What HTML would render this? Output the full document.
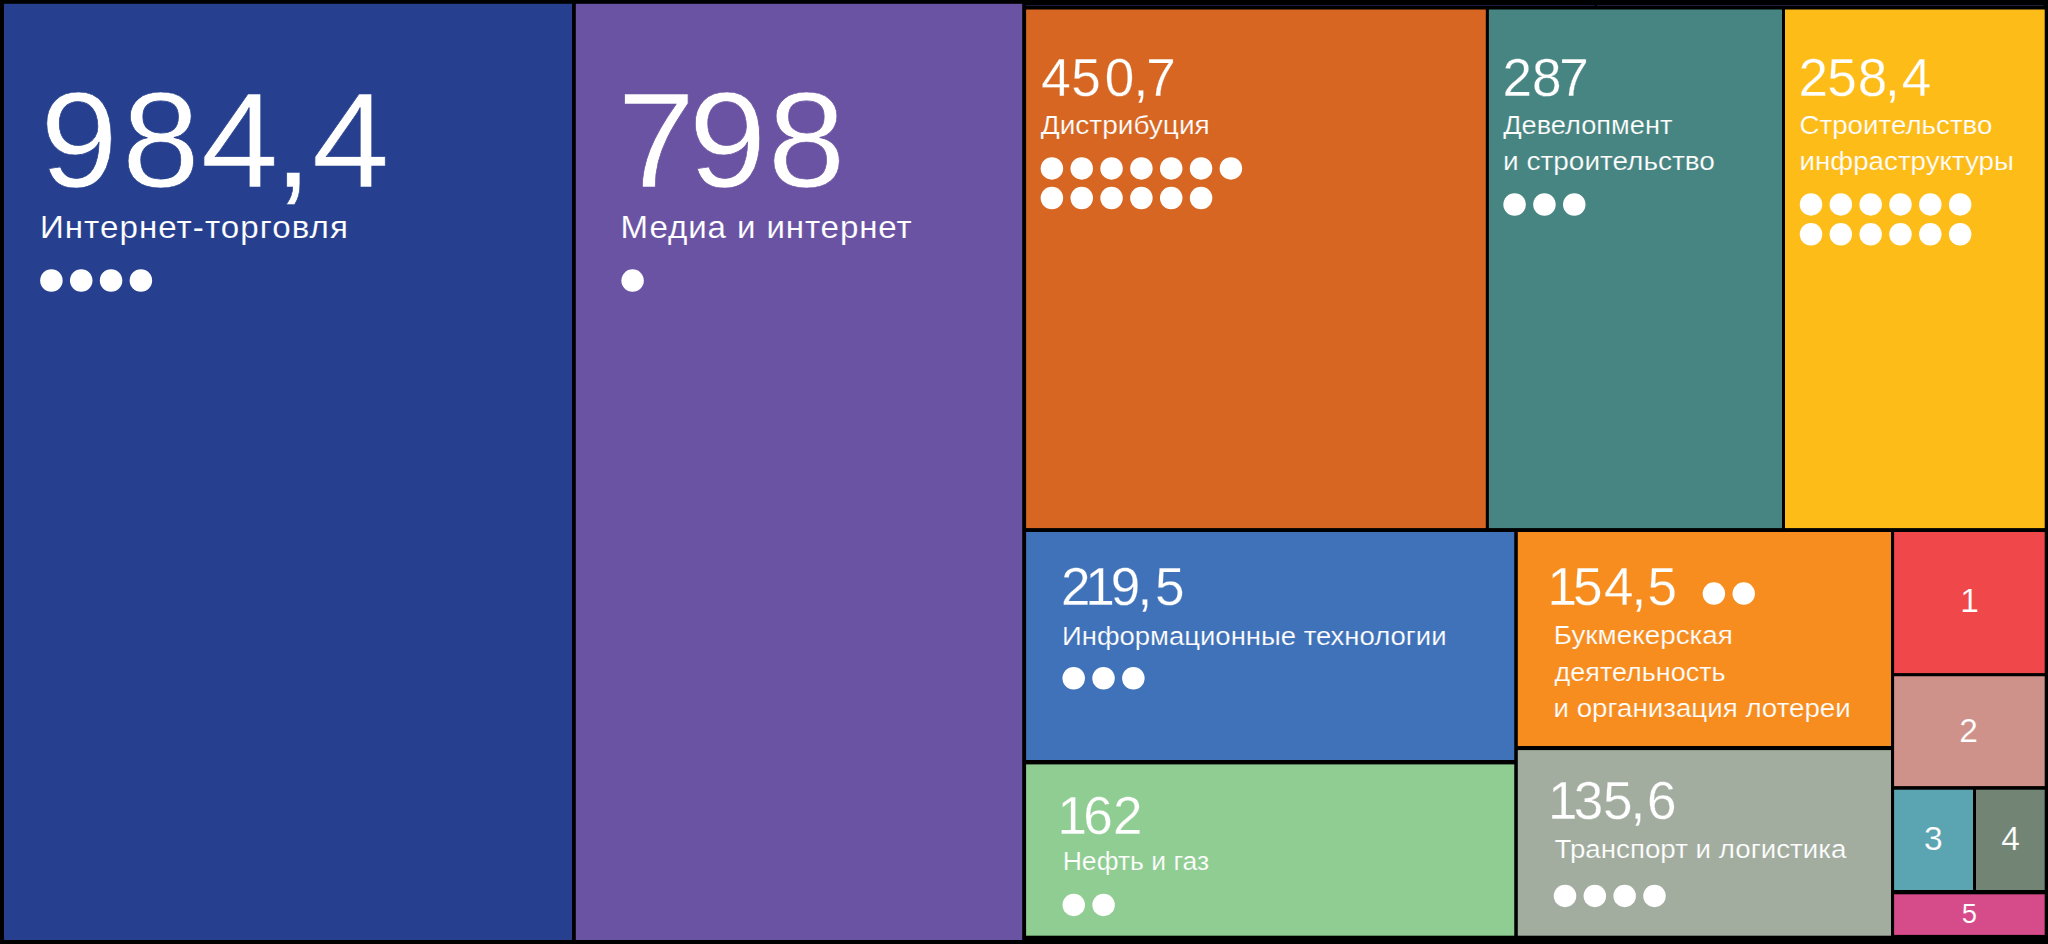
<!DOCTYPE html>
<html lang="ru"><head><meta charset="utf-8"><title>Treemap</title>
<style>
html,body{margin:0;padding:0;background:#000;}
body{width:2048px;height:944px;overflow:hidden;}
svg{display:block;}
text{font-family:"Liberation Sans",sans-serif;fill:#fff;}
</style></head><body>
<svg width="2048" height="944" viewBox="0 0 2048 944">
<rect width="2048" height="944" fill="#000"/>
<rect x="1026" y="5" width="568.5" height="1" fill="#181b3c"/>
<rect x="1597" y="5" width="446.5" height="1" fill="#241d3a"/>
<rect x="4" y="3.8" width="568" height="936.2" fill="#26408F"/>
<rect x="575.8" y="3.8" width="446.4" height="936.2" fill="#6B53A3"/>
<rect x="1026.1" y="9.5" width="459.7" height="518.6" fill="#D66621"/>
<rect x="1488.9" y="9.5" width="293.1" height="518.6" fill="#478582"/>
<rect x="1785" y="9.5" width="259.7" height="518.6" fill="#FDBC18"/>
<rect x="1026.1" y="532" width="488.15" height="228" fill="#4072BA"/>
<rect x="1517.8" y="532" width="373.2" height="214" fill="#F68D1E"/>
<rect x="1894.1" y="532" width="150.6" height="141.1" fill="#EF474A"/>
<rect x="1894.1" y="676.25" width="150.6" height="109.85" fill="#CF928B"/>
<rect x="1026.1" y="764.4" width="488.15" height="171.3" fill="#8FCD92"/>
<rect x="1517.8" y="750.1" width="373.2" height="185.6" fill="#A2ADA0"/>
<rect x="1894.1" y="789.7" width="78.9" height="100.3" fill="#5BA4B2"/>
<rect x="1976" y="789.7" width="68.7" height="100.3" fill="#728474"/>
<rect x="1894.1" y="894.3" width="150.6" height="40.6" fill="#D64B89"/>
<g fill="#fff">
<circle cx="51.4" cy="280.5" r="11.25"/>
<circle cx="81.23" cy="280.5" r="11.25"/>
<circle cx="111.06" cy="280.5" r="11.25"/>
<circle cx="140.89" cy="280.5" r="11.25"/>
<circle cx="632.6" cy="280.6" r="11.25"/>
<circle cx="1051.9" cy="168.4" r="11.25"/>
<circle cx="1081.73" cy="168.4" r="11.25"/>
<circle cx="1111.56" cy="168.4" r="11.25"/>
<circle cx="1141.39" cy="168.4" r="11.25"/>
<circle cx="1171.22" cy="168.4" r="11.25"/>
<circle cx="1201.05" cy="168.4" r="11.25"/>
<circle cx="1230.88" cy="168.4" r="11.25"/>
<circle cx="1051.9" cy="198.0" r="11.25"/>
<circle cx="1081.73" cy="198.0" r="11.25"/>
<circle cx="1111.56" cy="198.0" r="11.25"/>
<circle cx="1141.39" cy="198.0" r="11.25"/>
<circle cx="1171.22" cy="198.0" r="11.25"/>
<circle cx="1201.05" cy="198.0" r="11.25"/>
<circle cx="1514.6" cy="204.5" r="11.25"/>
<circle cx="1544.43" cy="204.5" r="11.25"/>
<circle cx="1574.26" cy="204.5" r="11.25"/>
<circle cx="1811.0" cy="204.4" r="11.25"/>
<circle cx="1840.83" cy="204.4" r="11.25"/>
<circle cx="1870.66" cy="204.4" r="11.25"/>
<circle cx="1900.49" cy="204.4" r="11.25"/>
<circle cx="1930.32" cy="204.4" r="11.25"/>
<circle cx="1960.15" cy="204.4" r="11.25"/>
<circle cx="1811.0" cy="234.2" r="11.25"/>
<circle cx="1840.83" cy="234.2" r="11.25"/>
<circle cx="1870.66" cy="234.2" r="11.25"/>
<circle cx="1900.49" cy="234.2" r="11.25"/>
<circle cx="1930.32" cy="234.2" r="11.25"/>
<circle cx="1960.15" cy="234.2" r="11.25"/>
<circle cx="1073.7" cy="678.2" r="11.25"/>
<circle cx="1103.53" cy="678.2" r="11.25"/>
<circle cx="1133.36" cy="678.2" r="11.25"/>
<circle cx="1713.9" cy="593.6" r="11.25"/>
<circle cx="1743.73" cy="593.6" r="11.25"/>
<circle cx="1073.75" cy="904.9" r="11.25"/>
<circle cx="1103.58" cy="904.9" r="11.25"/>
<circle cx="1565.0" cy="895.9" r="11.25"/>
<circle cx="1594.83" cy="895.9" r="11.25"/>
<circle cx="1624.66" cy="895.9" r="11.25"/>
<circle cx="1654.49" cy="895.9" r="11.25"/>
</g>
<text x="40.26" y="187.4" font-size="135.5" stroke="#26408F" stroke-width="0.68" dx="0 4.13 0.92 -4.37 -0.86" transform="translate(-1.208 0) scale(1.03 1)">984,4</text>
<text x="39.9" y="238.0" font-size="31.5" stroke="#26408F" stroke-width="0.13" textLength="293.26" lengthAdjust="spacing" transform="translate(-1.995 0) scale(1.05 1)">Интернет-торговля</text>
<text x="617.54" y="187.4" font-size="135.5" stroke="#6B53A3" stroke-width="0.68" dx="0 -6.15 1.31" transform="translate(-18.526 0) scale(1.03 1)">798</text>
<text x="620.6" y="238.0" font-size="31.5" stroke="#6B53A3" stroke-width="0.13" textLength="277.22" lengthAdjust="spacing" transform="translate(-31.03 0) scale(1.05 1)">Медиа и интернет</text>
<text x="1041.28" y="96.25" font-size="53" stroke="#D66621" stroke-width="0.27" dx="0 0.6 3.87 -0.65 -2.13">450,7</text>
<text x="1040.7" y="134.1" font-size="26.3" stroke="#D66621" stroke-width="0.21" textLength="169.03" lengthAdjust="spacingAndGlyphs">Дистрибуция</text>
<text x="1502.51" y="96.25" font-size="53" stroke="#478582" stroke-width="0.27" dx="0 0.02 -2.3">287</text>
<text x="1503.2" y="134.1" font-size="26.3" stroke="#478582" stroke-width="0.21" textLength="169.16" lengthAdjust="spacingAndGlyphs">Девелопмент</text>
<text x="1503.1" y="170.4" font-size="26.3" stroke="#478582" stroke-width="0.21" textLength="211.81" lengthAdjust="spacingAndGlyphs">и строительство</text>
<text x="1798.51" y="96.25" font-size="53" stroke="#FDBC18" stroke-width="0.27" dx="0 -0.82 0.97 -2.1 1.92">258,4</text>
<text x="1799.45" y="134.1" font-size="26.3" stroke="#FDBC18" stroke-width="0.21" textLength="193.0" lengthAdjust="spacingAndGlyphs">Строительство</text>
<text x="1799.5" y="170.4" font-size="26.3" stroke="#FDBC18" stroke-width="0.21" textLength="214.49" lengthAdjust="spacingAndGlyphs">инфраструктуры</text>
<text x="1060.93" y="605.1" font-size="53" stroke="#4072BA" stroke-width="0.27" dx="0 -5.08 -4.09 -2.65 2.71">219,5</text>
<text x="1062.05" y="644.8" font-size="26.3" stroke="#4072BA" stroke-width="0.21" textLength="384.43" lengthAdjust="spacingAndGlyphs">Информационные технологии</text>
<text x="1547.53" y="605.1" font-size="53" stroke="#F68D1E" stroke-width="0.27" dx="0 -3.93 1.43 -2.02 1.31">154,5</text>
<text x="1553.75" y="644.3" font-size="26.3" stroke="#F68D1E" stroke-width="0.21" textLength="179.19" lengthAdjust="spacingAndGlyphs">Букмекерская</text>
<text x="1554.55" y="680.6" font-size="26.3" stroke="#F68D1E" stroke-width="0.21" textLength="171.03" lengthAdjust="spacingAndGlyphs">деятельность</text>
<text x="1553.5" y="716.8" font-size="26.3" stroke="#F68D1E" stroke-width="0.21" textLength="297.27" lengthAdjust="spacingAndGlyphs">и организация лотереи</text>
<text x="1057.53" y="833.8" font-size="53" stroke="#8FCD92" stroke-width="0.27" dx="0 -3.7 0.15">162</text>
<text x="1062.7" y="869.9" font-size="26.3" stroke="#8FCD92" stroke-width="0.21" textLength="146.56" lengthAdjust="spacingAndGlyphs">Нефть и газ</text>
<text x="1547.93" y="819.4" font-size="53" stroke="#A2ADA0" stroke-width="0.27" dx="0 -3.72 -0.08 -2.02 1.65">135,6</text>
<text x="1554.55" y="858.3" font-size="26.3" stroke="#A2ADA0" stroke-width="0.21" textLength="291.89" lengthAdjust="spacingAndGlyphs">Транспорт и логистика</text>
<text x="1969.6" y="612.4" font-size="33.5" stroke="#EF474A" stroke-width="0.2" text-anchor="middle">1</text>
<text x="1968.6" y="741.9" font-size="33.5" stroke="#CF928B" stroke-width="0.2" text-anchor="middle">2</text>
<text x="1933.3" y="849.9" font-size="33.5" stroke="#5BA4B2" stroke-width="0.2" text-anchor="middle">3</text>
<text x="2010.5" y="850.1" font-size="33.5" stroke="#728474" stroke-width="0.2" text-anchor="middle">4</text>
<text x="1969.3" y="922.8" font-size="27.5" stroke="#D64B89" stroke-width="0.17" text-anchor="middle">5</text>
</svg>
</body></html>
